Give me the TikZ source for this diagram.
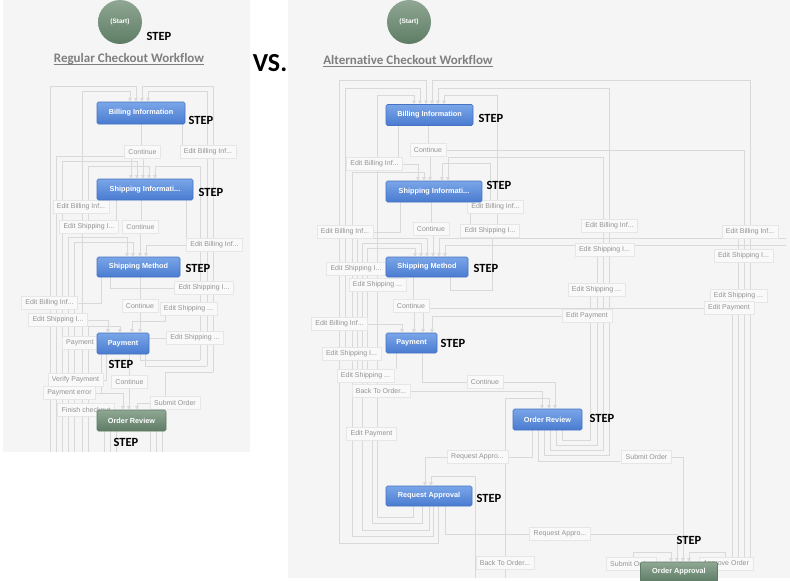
\documentclass[tikz,border=0pt]{standalone}
\usepackage{fontspec}
\setmainfont{Liberation Sans}
\newfontfamily\stepfamily[Ligatures=NoCommon]{Carlito}
\usetikzlibrary{arrows.meta}
\definecolor{panel}{HTML}{F5F5F5}
\definecolor{lncol}{HTML}{D9D9D9}
\definecolor{lblfill}{HTML}{F9F9F9}
\definecolor{lbldraw}{HTML}{E6E6E6}
\definecolor{lbltext}{HTML}{939393}
\definecolor{bluetop}{HTML}{7AA6E8}
\definecolor{bluebot}{HTML}{4A7BD0}
\definecolor{blueborder}{HTML}{4572C4}
\definecolor{greentop}{HTML}{8FA793}
\definecolor{greenbot}{HTML}{5E7C65}
\definecolor{titlecol}{HTML}{7F7F7F}
\pgfdeclarelayer{bg}
\pgfdeclarelayer{lines}
\pgfsetlayers{bg,lines,main}
\tikzset{
  ln/.style={draw=lncol, line width=1pt},
  arr/.style={-{Triangle[length=3.5pt,width=3.5pt]}},
  lbl/.style={rectangle, fill=lblfill, draw=lbldraw, line width=0.5pt, text=lbltext,
    font=\fontsize{7}{8}\selectfont, inner xsep=4pt, inner ysep=0pt, minimum height=13pt},
  stepbox/.style={rectangle, rounded corners=1.5pt, draw=blueborder, line width=0.6pt,
    top color=bluetop, bottom color=bluebot, text=white,
    font=\fontsize{7.3}{8}\selectfont\bfseries, inner sep=0pt},
  greenbox/.style={stepbox, draw=greenbot, top color=greentop, bottom color=greenbot},
  startnode/.style={circle, minimum size=44pt, inner sep=0pt, top color=greentop,
    bottom color=greenbot, draw=none, text=white, font=\fontsize{6.5}{7}\selectfont\bfseries},
  steplbl/.style={font=\stepfamily\bfseries\fontsize{12.5}{13}\selectfont, inner sep=0pt, text=black},
  titlelbl/.style={font=\stepfamily\bfseries\fontsize{13}{14}\selectfont, text=titlecol, inner sep=0pt},
}
\begin{document}
\begin{tikzpicture}[x=1pt,y=-1pt]
\useasboundingbox (0,0) rectangle (790,581);
\begin{pgfonlayer}{bg}
\fill[white] (0,0) rectangle (790,581);
\fill[panel] (3,0) rectangle (250,452);
\fill[panel] (288,0) rectangle (790,578);
\end{pgfonlayer}

% ---------------- LEFT PANEL ----------------
\node[startnode] (lstart) at (120,22) {(Start)};
\node[steplbl] (lstepS) at (159,36) {STEP};
\node[titlelbl] (ltitle) at (129,59) {Regular Checkout Workflow};
\draw[titlecol, line width=0.8pt] ([yshift=-2pt]ltitle.base west) -- ([yshift=-2pt]ltitle.base east);
\node[font=\stepfamily\bfseries\fontsize{26}{28}\selectfont, inner sep=0pt] (vs) at (270,63) {VS.};

% labels
\node[lbl] (lc1) at (142.5,151.5) {Continue};
\node[lbl] (leb1) at (208,152) {Edit Billing Inf...};
\node[lbl] (leb2) at (81,207) {Edit Billing Inf...};
\node[lbl] (les1) at (89,227) {Edit Shipping I...};
\node[lbl] (lc2) at (140.5,227) {Continue};
\node[lbl] (leb3) at (214.5,245) {Edit Billing Inf...};
\node[lbl] (les2) at (204,288) {Edit Shipping I...};
\node[lbl] (leb4) at (49.5,303) {Edit Billing Inf...};
\node[lbl] (lc3) at (140,306) {Continue};
\node[lbl] (les4) at (188.5,309) {Edit Shipping ...};
\node[lbl] (les3) at (58,320) {Edit Shipping I...};
\node[lbl] (lpl) at (80,343) {Payment};
\node[lbl] (les5) at (195,338) {Edit Shipping ...};
\node[lbl] (lvp) at (75.5,380) {Verify Payment};
\node[lbl] (lc4) at (129.5,382) {Continue};
\node[lbl] (lpe) at (69.5,393) {Payment error};
\node[lbl] (lso) at (175,403) {Submit Order};
\node[lbl] (lfc) at (86,410) {Finish checkout};

% steps
\node[stepbox, minimum width=88pt, minimum height=22pt] (bill) at (141,113) {Billing Information};
\node[stepbox, minimum width=96pt, minimum height=21pt] (ship) at (145,189.5) {Shipping Informati...};
\node[stepbox, minimum width=83pt, minimum height=20pt] (meth) at (138.5,267) {Shipping Method};
\node[stepbox, minimum width=52pt, minimum height=21pt] (pay) at (123,343.5) {Payment};
\node[greenbox, minimum width=69pt, minimum height=21pt] (rev) at (131.5,420.5) {Order Review};

\node[steplbl] (lstep1) at (201,120) {STEP};
\node[steplbl] (lstep2) at (211,192) {STEP};
\node[steplbl] (lstep3) at (198,268) {STEP};
\node[steplbl] (lstep4) at (121,364) {STEP};
\node[steplbl] (lstep5) at (126,442) {STEP};

\begin{pgfonlayer}{lines}
% into Billing Information
\draw[ln,arr] (50,452) -- (50,86) -- (136,86) -- (136,0 |- bill.north);
\draw[ln,arr] (82,452) -- (82,91) -- (130,91) -- (130,0 |- bill.north);
\draw[ln,arr] (213,372) -- (213,86) -- (142,86) -- (142,0 |- bill.north);
\draw[ln,arr] (207,366) -- (207,91) -- (148,91) -- (148,0 |- bill.north);
% out of Billing Information
\draw[ln] (141,0 |- bill.south) -- (141,0 |- lc1.north);
\draw[ln] (182,0 |- bill.south) -- (182,0 |- leb1.north);
% into Shipping Information
\draw[ln,arr] (143,0 |- lc1.south) -- (143,0 |- ship.north);
\draw[ln,arr] (56,452) -- (56,156) -- (131,156) -- (131,0 |- ship.north);
\draw[ln,arr] (62,452) -- (62,161) -- (137,161) -- (137,0 |- ship.north);
\draw[ln,arr] (88,0 |- les1.north) -- (88,166) -- (149,166) -- (149,0 |- ship.north);
\draw[ln,arr] (200,360) -- (200,166) -- (155,166) -- (155,0 |- ship.north);
% out of Shipping Information
\draw[ln] (141,0 |- ship.south) -- (141,0 |- lc2.north);
\draw[ln] (106,0 |- ship.south) -- (106,0 |- leb2.north);
\draw[ln] (116,0 |- ship.south) -- (116,0 |- les1.north);
\draw[ln] (186,0 |- ship.south) -- (186,0 |- leb3.north);
% into Shipping Method
\draw[ln,arr] (140,0 |- lc2.south) -- (140,0 |- meth.north);
\draw[ln,arr] (68,452) -- (68,237) -- (127,237) -- (127,0 |- meth.north);
\draw[ln,arr] (74,452) -- (74,242) -- (133,242) -- (133,0 |- meth.north);
\draw[ln,arr] (leb3.west) -- (146,245) -- (146,0 |- meth.north);
% out of Shipping Method
\draw[ln] (140,0 |- meth.south) -- (140,0 |- lc3.north);
\draw[ln] (110,0 |- meth.south) -- (110,288) -- (les2.west);
\draw[ln] (101,0 |- meth.south) -- (101,303) -- (leb4.east);
% into Payment
\draw[ln,arr] (140,0 |- lc3.south) -- (140,0 |- pay.north);
\draw[ln,arr] (les3.east) -- (108,320) -- (108,0 |- pay.north);
\draw[ln,arr] (88,452) -- (88,326) -- (120,326) -- (120,0 |- pay.north);
\draw[ln,arr] (165,0 |- les4.south) -- (165,321) -- (132,321) -- (132,0 |- pay.north);
\draw[ln] (pay.east |- les5.west) -- (les5.west);
% out of Payment
\draw[ln] (129,0 |- pay.south) -- (129,0 |- lc4.north);
\draw[ln] (106,0 |- pay.south) -- (106,380) -- (lvp.east);
\draw[ln] (101,0 |- pay.south) -- (101,393) -- (lpe.east);
\draw[ln] (140,0 |- pay.south) -- (140,360) -- (200,360);
\draw[ln] (145,0 |- pay.south) -- (145,366) -- (207,366);
\draw[ln] (213,372) -- (165,372) -- (165,0 |- lso.north);
% into Order Review
\draw[ln,arr] (129,0 |- lc4.south) -- (129,0 |- rev.north);
\draw[ln,arr] (lso.west) -- (137,403) -- (137,0 |- rev.north);
\draw[ln,arr] (lpe.east) -- (123,393) -- (123,0 |- rev.north);
% out of Order Review
\foreach \xx in {104,110,116,150,156,162}
  \draw[ln] (\xx,0 |- rev.south) -- (\xx,452);
\end{pgfonlayer}

% ---------------- RIGHT PANEL ----------------
\node[startnode] (rstart) at (409,22) {(Start)};
\node[titlelbl] (rtitle) at (408,60) {Alternative Checkout Workflow};
\draw[titlecol, line width=0.8pt] ([yshift=-2pt]rtitle.base west) -- ([yshift=-2pt]rtitle.base east);

\node[lbl] (rc1) at (428,150) {Continue};
\node[lbl] (reb1) at (374.5,164) {Edit Billing Inf...};
\node[lbl] (reb2) at (495.5,207) {Edit Billing Inf...};
\node[lbl] (reb3) at (345,232) {Edit Billing Inf...};
\node[lbl] (rc2) at (431,229) {Continue};
\node[lbl] (res1) at (490,231) {Edit Shipping I...};
\node[lbl] (reb5) at (609.5,226) {Edit Billing Inf...};
\node[lbl] (reb6) at (750,232) {Edit Billing Inf...};
\node[lbl] (res6) at (604.5,250) {Edit Shipping I...};
\node[lbl] (res7) at (743.5,256) {Edit Shipping I...};
\node[lbl] (res8) at (356,269) {Edit Shipping I...};
\node[lbl] (res4) at (377.5,285) {Edit Shipping ...};
\node[lbl] (res5) at (596.5,290) {Edit Shipping ...};
\node[lbl] (res9) at (738.5,296) {Edit Shipping ...};
\node[lbl] (rc3) at (411,306) {Continue};
\node[lbl] (rep2) at (729,308) {Edit Payment};
\node[lbl] (rep1) at (587,316) {Edit Payment};
\node[lbl] (reb4) at (339.5,324) {Edit Billing Inf...};
\node[lbl] (res2) at (351.5,354) {Edit Shipping I...};
\node[lbl] (res3) at (365.5,376) {Edit Shipping ...};
\node[lbl] (rc4) at (485,382) {Continue};
\node[lbl] (rbo1) at (381,391) {Back To Order...};
\node[lbl] (rep3) at (371.5,434) {Edit Payment};
\node[lbl] (rra1) at (477.5,457) {Request Appro...};
\node[lbl] (rso) at (646.5,457) {Submit Order};
\node[lbl] (rra2) at (560,534) {Request Appro...};
\node[lbl] (rbo2) at (505,563) {Back To Order...};
\node[lbl] (rso2) at (631,564) {Submit Order};
\node[lbl] (rao) at (726,564) {Approve Order};

\node[stepbox, minimum width=87pt, minimum height=21pt] (rbill) at (429.5,115) {Billing Information};
\node[stepbox, minimum width=96pt, minimum height=21pt] (rship) at (434,191.5) {Shipping Informati...};
\node[stepbox, minimum width=82pt, minimum height=20pt] (rmeth) at (427,267) {Shipping Method};
\node[stepbox, minimum width=51pt, minimum height=20pt] (rpay) at (411.5,343) {Payment};
\node[stepbox, minimum width=69pt, minimum height=21pt] (rrev) at (547.5,419.5) {Order Review};
\node[stepbox, minimum width=86pt, minimum height=20pt] (rreq) at (429,496) {Request Approval};
\node[greenbox, minimum width=77pt, minimum height=20pt] (rappr) at (679,572) {Order Approval};

\node[steplbl] (rstep1) at (491,118) {STEP};
\node[steplbl] (rstep2) at (499,185) {STEP};
\node[steplbl] (rstep3) at (486,268) {STEP};
\node[steplbl] (rstep4) at (453,343) {STEP};
\node[steplbl] (rstep5) at (602,418) {STEP};
\node[steplbl] (rstep6) at (489,498) {STEP};
\node[steplbl] (rstep7) at (689,540) {STEP};

\begin{pgfonlayer}{lines}
% into Billing Information
\draw[ln,arr] (438,0 |- rreq.south) -- (438,543) -- (339,543) -- (339,80) -- (426,80) -- (426,0 |- rbill.north);
\draw[ln,arr] (345,0 |- res2.north) -- (345,88) -- (420,88) -- (420,0 |- rbill.north);
\draw[ln,arr] (413,0 |- rreq.south) -- (413,517) -- (377,517) -- (377,95) -- (414,95) -- (414,0 |- rbill.north);
\draw[ln,arr] (750,0 |- rao.north) -- (750,80) -- (432,80) -- (432,0 |- rbill.north);
\draw[ln,arr] (544,0 |- rrev.south) -- (544,455) -- (609,455) -- (609,88) -- (438,88) -- (438,0 |- rbill.north);
\draw[ln,arr] (497,0 |- res1.north) -- (497,95) -- (444,95) -- (444,0 |- rbill.north);
% out of Billing Information
\draw[ln] (428,0 |- rbill.south) -- (428,0 |- rc1.north);
\draw[ln] (rc1.east) -- (744,150) -- (744,0 |- rao.north);
\draw[ln] (398,0 |- rbill.south) -- (398,0 |- reb1.north);
% into Shipping Information
\draw[ln,arr] (430,0 |- rc1.south) -- (430,0 |- rship.north);
\draw[ln,arr] (reb1.east) -- (418,164) -- (418,0 |- rship.north);
\draw[ln,arr] (433,0 |- rreq.south) -- (433,536) -- (352,536) -- (352,172) -- (424,172) -- (424,0 |- rship.north);
\draw[ln,arr] (550,0 |- rrev.south) -- (550,450) -- (603,450) -- (603,157) -- (448,157) -- (448,0 |- rship.north);
\draw[ln,arr] (490,0 |- reb2.north) -- (490,163) -- (442,163) -- (442,0 |- rship.north);
% out of Shipping Information
\draw[ln] (431,0 |- rship.south) -- (431,0 |- rc2.north);
\draw[ln] (400,0 |- rship.south) -- (400,232) -- (reb3.east);
\draw[ln] (470,0 |- rship.south) -- (470,0 |- res1.north);
% into Shipping Method
\draw[ln,arr] (433,0 |- rc2.south) -- (433,0 |- rmeth.north);
\draw[ln,arr] (786,238) -- (439,238) -- (439,0 |- rmeth.north);
\draw[ln,arr] (786,245) -- (445,245) -- (445,0 |- rmeth.north);
\draw[ln,arr] (357,0 |- res3.north) -- (357,238) -- (427,238) -- (427,0 |- rmeth.north);
\draw[ln,arr] (429,0 |- rreq.south) -- (429,530) -- (362,530) -- (362,243) -- (421,243) -- (421,0 |- rmeth.north);
\draw[ln,arr] (367,0 |- rbo1.north) -- (367,248) -- (415,248) -- (415,0 |- rmeth.north);
% out of Shipping Method
\draw[ln] (413,0 |- rmeth.south) -- (413,0 |- rc3.north);
\draw[ln] (395,0 |- rmeth.south) -- (395,0 |- res4.north);
\draw[ln] (450,0 |- rmeth.south) -- (450,290) -- (492,290) -- (492,0 |- res1.south);
% into Payment
\draw[ln,arr] (414,0 |- rc3.south) -- (414,0 |- rpay.north);
\draw[ln,arr] (reb4.east) -- (402,324) -- (402,0 |- rpay.north);
\draw[ln,arr] (rep1.west) -- (432,316) -- (432,0 |- rpay.north);
\draw[ln,arr] (rep2.west) -- (423,308) -- (423,0 |- rpay.north);
% out of Payment
\draw[ln] (422,0 |- rpay.south) -- (422,382) -- (rc4.west);
\draw[ln] (396,0 |- rpay.south) -- (396,0 |- res3.north);
\draw[ln,arr] (rc4.east) -- (555,382) -- (555,0 |- rrev.north);
\draw[ln,arr] (rbo1.east) -- (542,391) -- (542,0 |- rrev.north);
\draw[ln,arr] (505,578) -- (505,398) -- (549,398) -- (549,0 |- rrev.north);
% out of Order Review
\draw[ln] (532,0 |- rrev.south) -- (532,457) -- (rra1.east);
\draw[ln,arr] (rra1.west) -- (425,457) -- (425,0 |- rreq.north);
\draw[ln] (538,0 |- rrev.south) -- (538,461) -- (620,461);
\draw[ln,arr] (rso.east) -- (683,457) -- (683,0 |- rappr.north);
\draw[ln] (556,0 |- rrev.south) -- (556,445) -- (597,445) -- (597,0 |- res6.south);
\draw[ln] (562,0 |- rrev.south) -- (562,440) -- (590,440) -- (590,0 |- res5.south);
% Request Approval
\draw[ln,arr] (475,578) -- (475,476) -- (431,476) -- (431,0 |- rreq.north);
\draw[ln] (422,0 |- rreq.south) -- (422,523) -- (372,523) -- (372,0 |- rep3.south);
\draw[ln] (445,0 |- rreq.south) -- (445,534) -- (rra2.west);
\draw[ln,arr] (rra2.east) -- (677,534) -- (677,0 |- rappr.north);
% Order Approval
\draw[ln,arr] (633,0 |- rso2.north) -- (633,552) -- (671,552) -- (671,0 |- rappr.north);
\draw[ln,arr] (725,0 |- rao.north) -- (725,552) -- (689,552) -- (689,0 |- rappr.north);
\draw[ln] (732,0 |- rep2.south) -- (732,0 |- rao.north);
\draw[ln] (738,238) -- (738,0 |- rao.north);
\end{pgfonlayer}
\end{tikzpicture}
\end{document}
